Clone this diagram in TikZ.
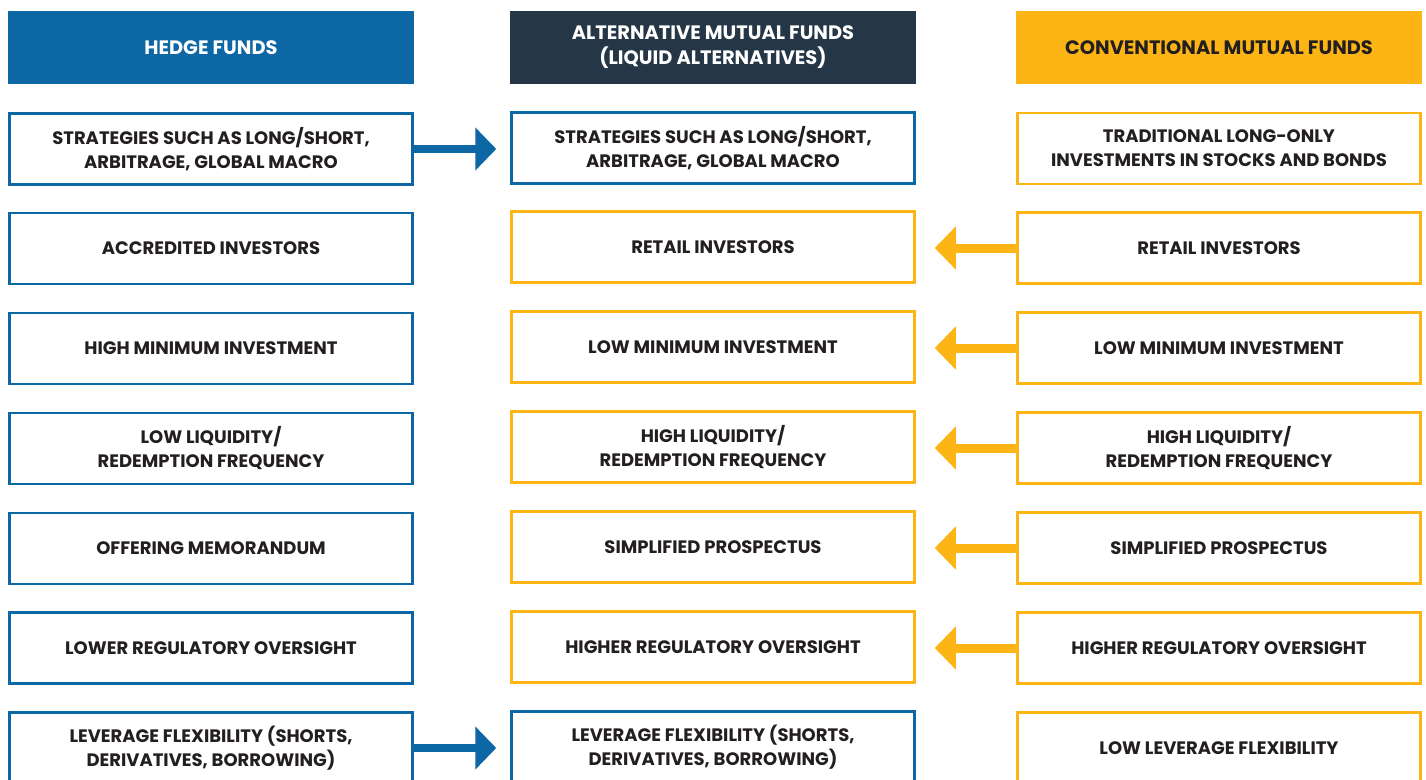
\documentclass[tikz,border=0pt]{standalone}
\usepackage{fontspec}
\setmainfont{Poppins}
\usepackage{tikz}
\usetikzlibrary{arrows.meta}

\definecolor{hfblue}{HTML}{0E67A5}
\definecolor{altnavy}{HTML}{253746}
\definecolor{mforange}{HTML}{FDB515}
\definecolor{txtdark}{HTML}{231F20}

\begin{document}
\begin{tikzpicture}[x=1pt,y=-1pt]
                \tikzstyle{header}=[rectangle, minimum width=406pt, minimum height=73pt, inner sep=0pt, align=center, font=\fontsize{19.4}{25}\selectfont\bfseries]
                \tikzstyle{cell}=[rectangle, fill=white, line width=2.5pt, minimum width=403pt, minimum height=71pt, inner sep=0pt, align=center, text=txtdark, font=\fontsize{18}{24}\selectfont\bfseries]
                \tikzstyle{bluecell}=[cell, draw=hfblue]
                \tikzstyle{orangecell}=[cell, draw=mforange]
                \tikzstyle{bluearrow}=[draw=hfblue, line width=8.5pt, -{Triangle[length=21pt,width=42pt]}, shorten >=14pt]
                \tikzstyle{orangearrow}=[draw=mforange, line width=9pt, -{Triangle[length=21pt,width=42pt]}, shorten >=19pt]

                \useasboundingbox (0,0) rectangle (1426,779);

                % column heads
                \node[header, fill=hfblue, text=white] (hf) at (211,47.5) {HEDGE FUNDS};
                \node[header, fill=altnavy, text=white] (alt) at (713,47.5) {ALTERNATIVE MUTUAL FUNDS\\(LIQUID ALTERNATIVES)};
                \node[header, fill=mforange, text=txtdark] (mf) at (1219,47.5) {CONVENTIONAL MUTUAL FUNDS};

                % hedge funds
                \node[bluecell] (h1) at (211,149) {STRATEGIES SUCH AS LONG/SHORT,\\ARBITRAGE, GLOBAL MACRO};
                \node[bluecell] (h2) at (211,248.5) {ACCREDITED INVESTORS};
                \node[bluecell] (h3) at (211,348.5) {HIGH MINIMUM INVESTMENT};
                \node[bluecell] (h4) at (211,448.5) {LOW LIQUIDITY/\\REDEMPTION FREQUENCY};
                \node[bluecell] (h5) at (211,548.5) {OFFERING MEMORANDUM};
                \node[bluecell] (h6) at (211,648) {LOWER REGULATORY OVERSIGHT};
                \node[bluecell] (h7) at (211,748) {LEVERAGE FLEXIBILITY (SHORTS,\\DERIVATIVES, BORROWING)};

                % alternative mutual funds
                \node[bluecell] (a1) at (713,148) {STRATEGIES SUCH AS LONG/SHORT,\\ARBITRAGE, GLOBAL MACRO};
                \node[orangecell] (a2) at (713,247) {RETAIL INVESTORS};
                \node[orangecell] (a3) at (713,347) {LOW MINIMUM INVESTMENT};
                \node[orangecell] (a4) at (713,447) {HIGH LIQUIDITY/\\REDEMPTION FREQUENCY};
                \node[orangecell] (a5) at (713,547) {SIMPLIFIED PROSPECTUS};
                \node[orangecell] (a6) at (713,647) {HIGHER REGULATORY OVERSIGHT};
                \node[bluecell] (a7) at (713,747) {LEVERAGE FLEXIBILITY (SHORTS,\\DERIVATIVES, BORROWING)};

                % conventional mutual funds
                \node[orangecell] (c1) at (1219,148.5) {TRADITIONAL LONG-ONLY\\INVESTMENTS IN STOCKS AND BONDS};
                \node[orangecell] (c2) at (1219,248) {RETAIL INVESTORS};
                \node[orangecell] (c3) at (1219,348) {LOW MINIMUM INVESTMENT};
                \node[orangecell] (c4) at (1219,448) {HIGH LIQUIDITY/\\REDEMPTION FREQUENCY};
                \node[orangecell] (c5) at (1219,548) {SIMPLIFIED PROSPECTUS};
                \node[orangecell] (c6) at (1219,648) {HIGHER REGULATORY OVERSIGHT};
                \node[orangecell] (c7) at (1219,748) {LOW LEVERAGE FLEXIBILITY};

                \foreach \source/ \dest in {h1/a1, h7/a7}
                \path[bluearrow] (\source.east) -- (\source.east -| \dest.west);
                \foreach \source/ \dest in {c2/a2, c3/a3, c4/a4, c5/a5, c6/a6}
                \path[orangearrow] (\source.west) -- (\source.west -| \dest.east);
            \end{tikzpicture}
\end{document}
